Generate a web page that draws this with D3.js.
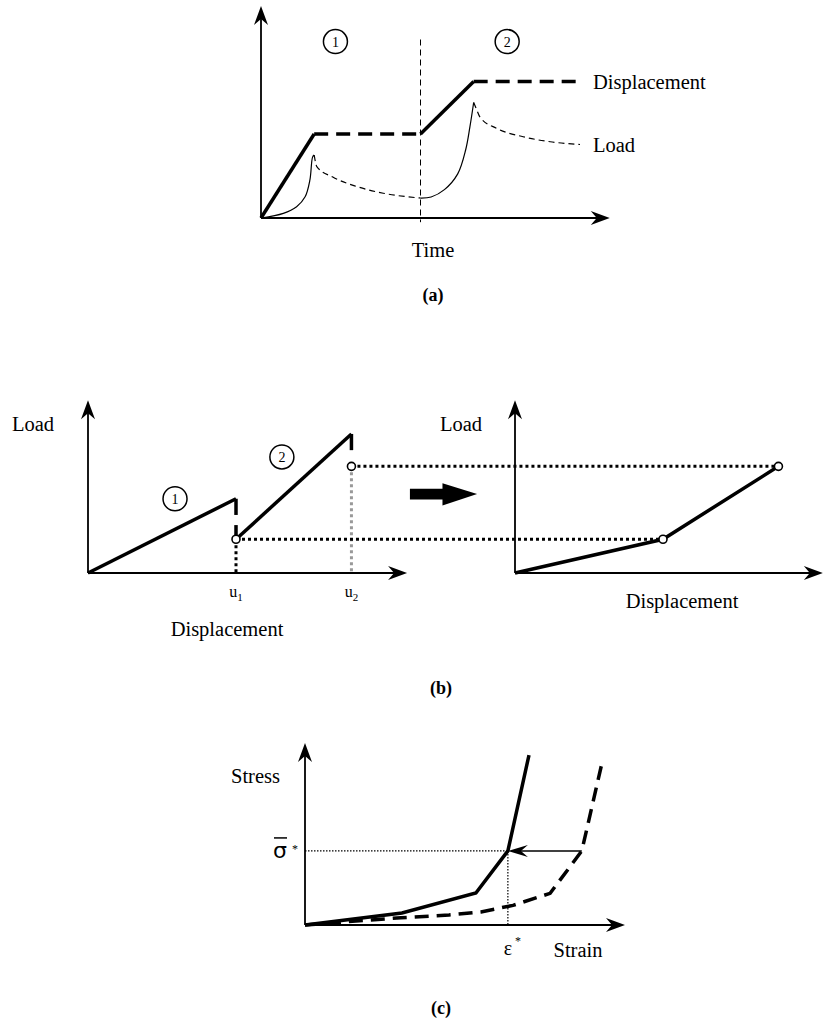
<!DOCTYPE html>
<html>
<head>
<meta charset="utf-8">
<script src="https://cdn.jsdelivr.net/npm/d3@7"></script>
<style>
  body { margin: 0; background: #fff; }
</style>
</head>
<body>
<script>
var SERIF = "'Liberation Serif', Tinos, 'Times New Roman', Times, 'DejaVu Serif', serif";

// ---------- data (a): displacement and load against time ----------
var dispRamp1 = [[0, 0], [1, 4]];
var dispHold1 = [[1, 4], [3, 4]];
var dispRamp2 = [[3, 4], [4, 6.5]];
var dispHold2 = [[4, 6.5], [6, 6.5]];
var loadRise1 = [[0, 0], [0.42, 0.22], [0.67, 0.54], [0.83, 1.01], [0.92, 1.81], [0.97, 2.9], [1, 3]];
var loadRelax1 = [[1, 3], [1.05, 2.45], [1.35, 1.95], [1.8, 1.5], [2.3, 1.18], [3, 0.95]];
var loadRise2 = [[3, 0.95], [3.2, 1.0], [3.45, 1.35], [3.7, 2.1], [3.85, 3.25], [3.93, 4.35], [4, 5.5]];
var loadRelax2 = [[4, 5.5], [4.05, 5.2], [4.12, 4.8], [4.43, 4.27], [4.93, 3.87], [5.44, 3.63], [6, 3.5]];
var stageSplit = 3;
var stageNames = ["1", "2"];
var stageTimes = [1.4, 4.63];

// ---------- data (b): load against displacement ----------
var uValues = [5, 8.9];
var uNames = ["1", "2"];
var branch1 = [[0, 0], [5, 5.5]];
var branch2 = [[5, 2.5], [8.9, 10.3]];
var drop1a = [[5, 5.5], [5, 4.3]];
var drop1b = [[5, 3.55], [5, 2.5]];
var drop2 = [[8.9, 10.3], [8.9, 9.1]];
var relaxedLoads = [2.5, 7.9];
var envelope = [[0, 0], [5, 2.5], [8.9, 7.9]];
var branchNames = ["1", "2"];
var branchLabelPos = [[2.94, 5.5], [6.55, 8.6]];

// ---------- data (c): stress against strain ----------
var curveSolid = [[0, 0], [3.03, 0.66], [5.34, 1.76], [6.34, 4.07], [7.0, 9.34]];
var curveDashed = [[0, 0], [1.3, 0.18], [3.0, 0.4], [4.5, 0.55], [5.5, 0.72], [6.5, 1.08], [7.66, 1.74], [8.65, 4.07], [9.28, 8.9]];
var sigmaStar = 4.07;
var epsStar = 6.34;

var svg = d3.select("body").append("svg")
    .attr("width", 824)
    .attr("height", 1024);

// filled notched arrow head, tip at (x,y), pointing along angle (deg)
function arrowHead(x, y, angle, L, W, N) {
    svg.append("path")
        .attr("d", "M0,0L" + (-L) + "," + (-W / 2) + "L" + (-L + N) + ",0L" + (-L) + "," + (W / 2) + "Z")
        .attr("transform", "translate(" + x + "," + y + ") rotate(" + angle + ")")
        .attr("fill", "#000");
}

function axes(xs, ys, xEnd, yEnd) {
    var x0 = xs(0), y0 = ys(0);
    svg.append("line").attr("x1", x0).attr("y1", y0).attr("x2", xs(xEnd) - 8).attr("y2", y0)
        .attr("stroke", "#000").attr("stroke-width", 1.8);
    svg.append("line").attr("x1", x0).attr("y1", y0).attr("x2", x0).attr("y2", ys(yEnd) + 8)
        .attr("stroke", "#000").attr("stroke-width", 1.8);
    arrowHead(xs(xEnd), y0, 0, 19, 14, 6);
    arrowHead(x0, ys(yEnd), -90, 19, 14, 6);
}

function path(data, xs, ys, width, dash, curve) {
    var gen = d3.line().x(function(d) { return xs(d[0]); }).y(function(d) { return ys(d[1]); });
    if (curve) gen.curve(curve);
    return svg.append("path")
        .attr("d", gen(data))
        .attr("fill", "none")
        .attr("stroke", "#000")
        .attr("stroke-width", width)
        .attr("stroke-dasharray", dash || null)
        .attr("stroke-linejoin", "miter");
}

function label(x, y, txt, size, anchor, weight) {
    return svg.append("text").attr("x", x).attr("y", y)
        .attr("text-anchor", anchor || "middle")
        .attr("font-family", SERIF)
        .attr("font-size", size)
        .attr("font-weight", weight || "normal")
        .attr("fill", "#000")
        .text(txt);
}

function circledNumber(x, y, txt) {
    svg.append("circle").attr("cx", x).attr("cy", y).attr("r", 12)
        .attr("fill", "none").attr("stroke", "#000").attr("stroke-width", 1.5);
    label(x, y + 5, txt, 14);
}

// ================= (a) =================
var xa = d3.scaleLinear().domain([0, 6]).range([261, 580]);
var ya = d3.scaleLinear().domain([0, 10]).range([218, 8]);

axes(xa, ya, 6.56, 10.1);

path([[stageSplit, 8.5], [stageSplit, -0.2]], xa, ya, 1, "6,4");

path(dispRamp1, xa, ya, 3.5);
path(dispHold1, xa, ya, 3.5, "14,8");
path(dispRamp2, xa, ya, 3.5);
path(dispHold2, xa, ya, 3.5, "14,8");

path(loadRise1, xa, ya, 1.2, null, d3.curveCatmullRom);
path(loadRelax1, xa, ya, 1.2, "6,4", d3.curveMonotoneX);
path(loadRise2, xa, ya, 1.2, null, d3.curveCatmullRom);
path(loadRelax2, xa, ya, 1.2, "6,4", d3.curveMonotoneX);

stageNames.forEach(function(s, i) { circledNumber(xa(stageTimes[i]), ya(8.4), s); });

label(xa(6) + 13, ya(6.5) + 7, "Displacement", 20.5, "start");
label(xa(6) + 13, ya(3.5) + 7, "Load", 20.5, "start");
label(433, 257, "Time", 20.5);
label(433, 301, "(a)", 18, "middle", "bold");

// ================= (b) =================
var xb = d3.scaleLinear().domain([0, 9]).range([88, 354.4]);
var xb2 = d3.scaleLinear().domain([0, 9]).range([515, 781.4]);
var yb = d3.scaleLinear().domain([0, 10]).range([573, 438]);

axes(xb, yb, 10.78, 12.8);
axes(xb2, yb, 10.4, 12.8);

// projections
path([[uValues[0], relaxedLoads[0]], [uValues[0], 0]], xb, yb, 3, "3,3");
path([[uValues[1], relaxedLoads[1]], [uValues[1], 0]], xb, yb, 3, "3,3").attr("stroke", "#999");
relaxedLoads.forEach(function(v, i) {
    svg.append("path")
        .attr("d", d3.line()([[xb(uValues[i]), yb(v)], [xb2(uValues[i]), yb(v)]]))
        .attr("stroke", "#000").attr("stroke-width", 3).attr("stroke-dasharray", "3,3");
});

path(branch1, xb, yb, 3.5);
path(branch2, xb, yb, 3.5);
path(drop1a, xb, yb, 3.5);
path(drop1b, xb, yb, 3.5);
path(drop2, xb, yb, 3.5);
path(envelope, xb2, yb, 3.5);

relaxedLoads.forEach(function(v, i) {
    [xb, xb2].forEach(function(xs) {
        svg.append("circle").attr("cx", xs(uValues[i])).attr("cy", yb(v)).attr("r", 4)
            .attr("fill", "#fff").attr("stroke", "#000").attr("stroke-width", 1.6);
    });
});

branchNames.forEach(function(s, i) {
    circledNumber(xb(branchLabelPos[i][0]), yb(branchLabelPos[i][1]), s);
});

// transfer arrow
svg.append("path")
    .attr("d", d3.line()([[xb2(-3.55), yb(6.25)], [xb2(-2.45), yb(6.25)], [xb2(-2.45), yb(6.65)],
        [xb2(-1.28), yb(5.85)], [xb2(-2.45), yb(5.0)], [xb2(-2.45), yb(5.45)], [xb2(-3.55), yb(5.45)]]) + "Z")
    .attr("fill", "#000");

uValues.forEach(function(v, i) {
    var t = label(xb(v), 597, "u", 16);
    t.append("tspan").attr("dy", 4).attr("font-size", 11).text(uNames[i]);
});
label(12, 431, "Load", 20.5, "start");
label(440, 431, "Load", 20.5, "start");
label(227, 636, "Displacement", 20.5);
label(682, 608, "Displacement", 20.5);
label(441, 694, "(b)", 18, "middle", "bold");

// ================= (c) =================
var xc = d3.scaleLinear().domain([0, 10]).range([305, 625]);
var yc = d3.scaleLinear().domain([0, 10]).range([925, 743]);

axes(xc, yc, 10, 10);

path([[0, sigmaStar], [epsStar, sigmaStar]], xc, yc, 1.2, "1.5,1.5");
path([[epsStar, sigmaStar], [epsStar, 0]], xc, yc, 1.2, "1.5,1.5");

path(curveSolid, xc, yc, 3.5);
path(curveDashed, xc, yc, 3.5, "14,8");

// shift arrow from dashed curve back to solid curve
path([[curveDashed[7][0], sigmaStar], [epsStar + 0.3, sigmaStar]], xc, yc, 1.5);
arrowHead(xc(epsStar), yc(sigmaStar), 180, 20, 12, 7);

label(280, 783, "Stress", 20.5, "end");
svg.append("text").attr("x", 280).attr("y", yc(sigmaStar) + 7).attr("text-anchor", "middle")
    .attr("font-family", "'DejaVu Sans', sans-serif").attr("font-size", 22).text("σ");
svg.append("line").attr("x1", 274).attr("x2", 287)
    .attr("y1", yc(sigmaStar) - 13).attr("y2", yc(sigmaStar) - 13)
    .attr("stroke", "#000").attr("stroke-width", 1.5);
label(295, yc(sigmaStar) + 2, "*", 12);
label(xc(epsStar), 955, "ε", 20);
label(xc(epsStar) + 10, 945, "*", 12);
label(578, 957, "Strain", 20.5);
label(441, 1014, "(c)", 18, "middle", "bold");
</script>
</body>
</html>
